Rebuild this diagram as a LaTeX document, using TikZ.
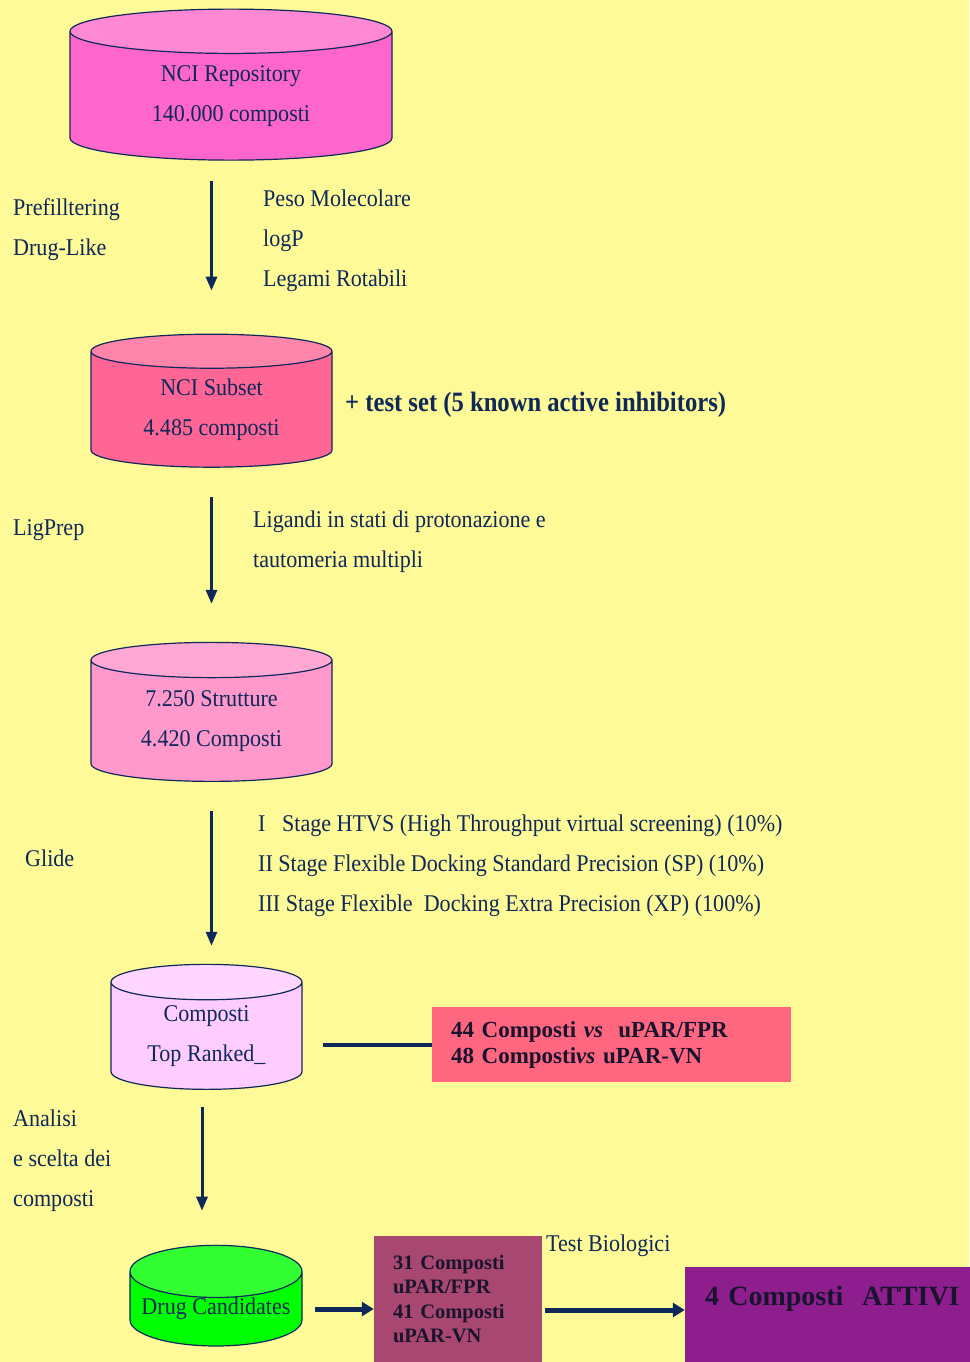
\documentclass[tikz,border=0pt]{standalone}
\usepackage{fontspec}
\setmainfont{Liberation Serif}
\newfontfamily\slimfont[FakeStretch=0.92]{Liberation Serif}
\newfontfamily\headfont[FakeStretch=0.88]{Liberation Serif}
\usetikzlibrary{shapes.geometric}
\usetikzlibrary{arrows.meta}
\usetikzlibrary{positioning}

\definecolor{paper}{RGB}{255,250,152}
\definecolor{ink}{RGB}{14,40,90}
\definecolor{boxink}{RGB}{25,20,45}
\definecolor{repoBody}{RGB}{255,102,204}
\definecolor{repoTop}{RGB}{255,136,212}
\definecolor{subBody}{RGB}{255,102,150}
\definecolor{subTop}{RGB}{255,134,170}
\definecolor{strBody}{RGB}{255,153,204}
\definecolor{strTop}{RGB}{255,168,212}
\definecolor{topBody}{RGB}{255,204,255}
\definecolor{topTop}{RGB}{255,214,255}
\definecolor{candBody}{RGB}{0,255,0}
\definecolor{candTop}{RGB}{50,255,50}
\definecolor{hitsFill}{RGB}{255,102,128}
\definecolor{testFill}{RGB}{168,72,112}
\definecolor{activeFill}{RGB}{142,30,142}

\tikzset{
  db/.style={cylinder, shape border rotate=90, draw=ink, line width=1.2pt,
    cylinder uses custom fill, align=center, text=ink, inner sep=0pt,
    font=\slimfont\fontsize{24}{40}\selectfont},
  note/.style={anchor=west, align=left, text=ink, inner sep=0pt,
    font=\slimfont\fontsize{24}{40}\selectfont},
  flow/.style={ink, line width=3pt, -{Triangle[width=11pt,length=14pt]}},
  bigflow/.style={ink, line width=5pt, -{Triangle[width=14pt,length=12pt]}},
  result/.style={rectangle, align=left, text=boxink, anchor=center,
    font=\bfseries\fontsize{21}{26}\selectfont},
}

\begin{document}
\begin{tikzpicture}[x=1pt,y=-1pt]

    % Page
    \fill[paper] (0,0) rectangle (969,1362);
    \useasboundingbox (0,0) rectangle (969,1362);

    % Databases
    \node[db, minimum width=322pt, minimum height=151pt, aspect=0.28,
      cylinder end fill=repoTop, cylinder body fill=repoBody] (repo) at (231,96)
      {NCI Repository\\140.000 composti};
    \node[db, minimum width=241pt, minimum height=133pt, aspect=0.25,
      cylinder end fill=subTop, cylinder body fill=subBody] (subset) at (211.5,409.5)
      {NCI Subset\\4.485 composti};
    \node[db, minimum width=241pt, minimum height=139pt, aspect=0.25,
      cylinder end fill=strTop, cylinder body fill=strBody] (strutt) at (211.5,721)
      {7.250 Strutture\\4.420 Composti};
    \node[db, minimum width=191pt, minimum height=125pt, aspect=0.3,
      cylinder end fill=topTop, cylinder body fill=topBody] (topranked) at (206.5,1036)
      {Composti\\Top Ranked\_};
    \node[db, minimum width=172pt, minimum height=98pt, aspect=0.35,
      cylinder end fill=candTop, cylinder body fill=candBody] (drugcand) at (216,1309)
      {Drug Candidates};

    % Boxes
    \node[result, fill=hitsFill, minimum width=359pt, minimum height=75pt,
      text width=321pt, inner xsep=19pt, font=\bfseries\fontsize{23}{26}\selectfont]
      (hits) at (611.5,1044.5)
      {44 Composti \textit{vs}\ \ uPAR/FPR\\48 Composti\textit{vs} uPAR-VN};
    \node[result, fill=testFill, minimum width=168pt, minimum height=126pt,
      text width=130pt, inner xsep=19pt, font=\bfseries\fontsize{20.5}{24.5}\selectfont]
      (tested) at (458,1299)
      {31 Composti\\uPAR/FPR\\41 Composti\\uPAR-VN};
    \node[result, fill=activeFill, text width=264pt, inner xsep=20pt,
      inner ysep=8pt, text height=30pt, text depth=49pt,
      font=\bfseries\fontsize{28}{32}\selectfont] (active) at (837,1314.5)
      {4 Composti\ \ ATTIVI};

    % Labels
    \node[note] (prefilter) at (13,230) {Prefilltering\\Drug-Like};
    \node[note] (props) at (263,241) {Peso Molecolare\\logP\\Legami Rotabili};
    \node[note, font=\headfont\bfseries\fontsize{28}{32}\selectfont] (testset) at (345,405)
      {+ test set (5 known active inhibitors)};
    \node[note] (ligprep) at (13,530) {LigPrep};
    \node[note] (ligandi) at (253,542) {Ligandi in stati di protonazione e\\tautomeria multipli};
    \node[note] (glide) at (25,858) {Glide};
    \node[note] (stages) at (258,866)
      {I\ \ \ Stage HTVS (High Throughput virtual screening) (10\%)\\
       II\ Stage Flexible Docking Standard Precision (SP) (10\%)\\
       III Stage Flexible\ \ Docking Extra Precision (XP) (100\%)};
    \node[note] (analisi) at (13,1161) {Analisi\\e scelta dei\\composti};
    \node[note] (biotest) at (546,1246) {Test Biologici};

    % Flow
    \draw[flow, shorten <=20pt, shorten >=43pt] (repo.south -| subset.north) -- (subset.north);
    \draw[flow, shorten <=29pt, shorten >=38pt] (subset.south) -- (strutt.north);
    \draw[flow, shorten <=29pt, shorten >=18pt] (strutt.south) -- (strutt.south |- topranked.north);
    \draw[flow, shorten <=17pt, shorten >=34pt] ([xshift=-4.5pt]topranked.south)
      -- ([xshift=-4.5pt]topranked.south |- drugcand.north);
    \draw[ink, line width=4pt, shorten <=20pt] (topranked.east |- hits.west) -- (hits.west);
    \draw[bigflow, shorten <=12pt] (drugcand.east |- 0,1309) -- (tested.west |- 0,1309);
    \draw[bigflow, shorten <=3pt] (tested.east |- 0,1310) -- (active.west |- 0,1310);

\end{tikzpicture}
\end{document}
